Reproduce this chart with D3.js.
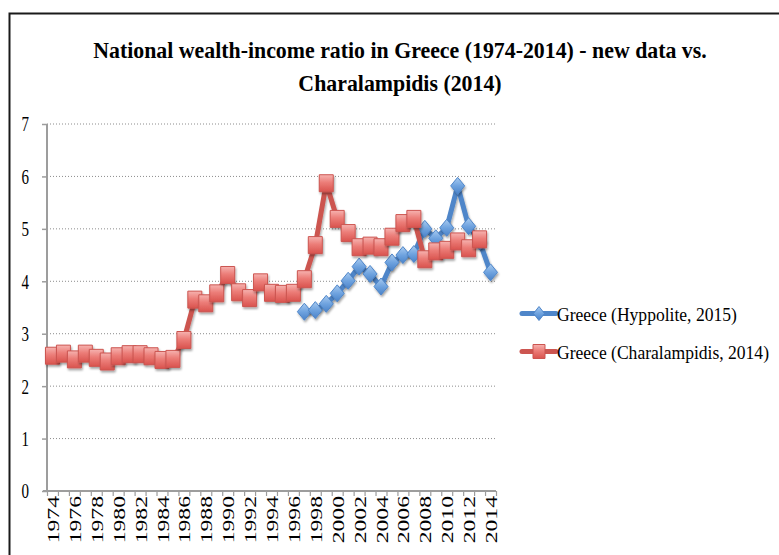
<!DOCTYPE html>
<html>
<head>
<meta charset="utf-8">
<script src="https://cdn.jsdelivr.net/npm/d3@7"></script>
<style>
  html, body { margin: 0; padding: 0; background: #fff; }
  svg { display: block; }
  text { font-family: "Liberation Serif", "Times New Roman", serif; fill: #000; }
</style>
</head>
<body>
<svg id="chart" width="779" height="555"></svg>
<script>
// ---------- data ----------
const years = d3.range(1974, 2015).map(String);
const yTicks = [0, 1, 2, 3, 4, 5, 6, 7];
const xTickLabels = years.filter((d, i) => i % 2 === 0);

const hyppolite = [
  null, null, null, null, null, null, null, null, null, null,
  null, null, null, null, null, null, null, null, null, null,
  null, null, null,
  3.42, 3.45, 3.57, 3.77, 4.01, 4.28, 4.14, 3.90, 4.36, 4.50,
  4.52, 5.00, 4.82, 5.02, 5.82, 5.05, 4.76, 4.17
];
const charalampidis = [
  2.58, 2.62, 2.51, 2.62, 2.54, 2.47, 2.57, 2.61, 2.61, 2.57,
  2.50, 2.52, 2.88, 3.65, 3.58, 3.77, 4.12, 3.79, 3.68, 3.98,
  3.78, 3.76, 3.78, 4.04, 4.69, 5.87, 5.19, 4.92, 4.65, 4.68,
  4.65, 4.85, 5.11, 5.19, 4.42, 4.57, 4.60, 4.76, 4.63, 4.80,
  null
];
const seriesNames = ["Greece (Hyppolite, 2015)", "Greece (Charalampidis, 2014)"];
const titleLines = ["National wealth-income ratio in Greece (1974-2014) - new data vs.", "Charalampidis (2014)"];

// ---------- layout ----------
const svg = d3.select("#chart");
const plot = { left: 47, right: 496, top: 124, bottom: 491 };

const defs = svg.append("defs");
const sh = defs.append("filter").attr("id", "shadow").attr("x", "-50%").attr("y", "-50%").attr("width", "200%").attr("height", "200%");
sh.append("feDropShadow").attr("dx", 1).attr("dy", 2).attr("stdDeviation", 1.3)
  .attr("flood-color", "#000").attr("flood-opacity", 0.35);

const gRed = defs.append("linearGradient").attr("id", "gradRed").attr("x1", 0).attr("y1", 0).attr("x2", 0).attr("y2", 1);
gRed.append("stop").attr("offset", "0%").attr("stop-color", "#f6b3b0");
gRed.append("stop").attr("offset", "45%").attr("stop-color", "#ec7d78");
gRed.append("stop").attr("offset", "100%").attr("stop-color", "#d9534e");
const gBlue = defs.append("linearGradient").attr("id", "gradBlue").attr("x1", 0).attr("y1", 0).attr("x2", 0).attr("y2", 1);
gBlue.append("stop").attr("offset", "0%").attr("stop-color", "#a9cbf0");
gBlue.append("stop").attr("offset", "50%").attr("stop-color", "#6fa3df");
gBlue.append("stop").attr("offset", "100%").attr("stop-color", "#4a82c8");

// border
svg.append("rect").attr("x", 9.5).attr("y", 13.5).attr("width", 800).attr("height", 600)
  .attr("fill", "none").attr("stroke", "#1a1a1a").attr("stroke-width", 2);

// scales
const xBand = d3.scaleBand().domain(years).range([plot.left, plot.right]).padding(0);
const xEdge = d3.scaleLinear().domain([0, years.length]).range([plot.left, plot.right]);
const y = d3.scaleLinear().domain([0, 7]).range([plot.bottom, plot.top]);
const cx = d => xBand(d) + xBand.bandwidth() / 2;

// gridlines
svg.append("g").selectAll("line").data(yTicks.filter(v => v > 0)).join("line")
  .attr("x1", plot.left).attr("x2", plot.right)
  .attr("y1", d => y(d)).attr("y2", d => y(d))
  .attr("stroke", "#8c8c8c").attr("stroke-width", 1).attr("stroke-dasharray", "1,2");

// y axis
const yAxis = svg.append("g").attr("transform", `translate(${plot.left},0)`)
  .call(d3.axisLeft(y).tickValues(yTicks).tickSize(5).tickPadding(0).tickFormat(d3.format("d")));
yAxis.select(".domain").attr("stroke", "#9d9d9d").attr("stroke-width", 2).attr("d", `M0,${plot.top}V${plot.bottom}`);
yAxis.selectAll(".tick line").attr("stroke", "#9d9d9d").attr("stroke-width", 1.5);
yAxis.selectAll(".tick text")
  .attr("x", null).attr("dy", null)
  .attr("font-size", 15).attr("text-anchor", "end").attr("dominant-baseline", "central")
  .attr("transform", "translate(-18,0) scale(1,1.4)");

// x axis: tick marks at category boundaries
const xAxisTicks = svg.append("g").attr("transform", `translate(0,${plot.bottom})`)
  .call(d3.axisBottom(xEdge).tickValues(d3.range(0, years.length + 1)).tickSize(5).tickFormat(""));
xAxisTicks.select(".domain").attr("stroke", "#9d9d9d").attr("stroke-width", 2).attr("d", `M${plot.left - 4},0H${plot.right}`);
xAxisTicks.selectAll(".tick line").attr("stroke", "#9d9d9d").attr("stroke-width", 1.2);

// x labels
const xAxisLabels = svg.append("g").attr("transform", `translate(0,${plot.bottom})`)
  .call(d3.axisBottom(xBand).tickValues(xTickLabels).tickSize(0));
xAxisLabels.select(".domain").remove();
xAxisLabels.selectAll(".tick text")
  .attr("y", null).attr("dy", null)
  .attr("font-size", 16).attr("text-anchor", "end").attr("dominant-baseline", "central")
  .attr("transform", "translate(1,5) rotate(-90) scale(1.48,1)");

// series
const lineGen = d3.line().defined(d => d.v != null).x(d => cx(d.year)).y(d => y(d.v));
const blueData = years.map((yr, i) => ({ year: yr, v: hyppolite[i] }));
const redData = years.map((yr, i) => ({ year: yr, v: charalampidis[i] }));

const blueColor = "#4f86c9", redColor = "#cc5550";
const diamond = (w, h) => `M0,${-h}L${w},0L0,${h}L${-w},0Z`;
const square = (w, h) => `M${-w},${-h}H${w}V${h}H${-w}Z`;

function drawSeries(data, color, markerPath, grad) {
  const g = svg.append("g");
  g.append("path").datum(data).attr("d", lineGen).attr("fill", "none")
    .attr("stroke", color).attr("stroke-width", 5).attr("stroke-linejoin", "round")
    .attr("filter", "url(#shadow)");
  g.selectAll("path.mk").data(data.filter(d => d.v != null)).join("path").attr("class", "mk")
    .attr("d", markerPath)
    .attr("transform", d => `translate(${cx(d.year)},${y(d.v)})`)
    .attr("fill", `url(#${grad})`).attr("stroke", color).attr("stroke-width", 1)
    .attr("filter", "url(#shadow)");
}
drawSeries(blueData, blueColor, diamond(7, 8.5), "gradBlue");
drawSeries(redData, redColor, square(7, 8.5), "gradRed");

// title
const title = svg.append("g");
const t1 = title.append("text").text(titleLines[0]).attr("font-size", 23).attr("font-weight", "bold").attr("text-anchor", "middle");
const w1 = t1.node().getComputedTextLength();
const sxT = 614 / w1;
t1.attr("transform", `translate(400,58) scale(${sxT},1.02)`);
title.append("text").text(titleLines[1]).attr("font-size", 23).attr("font-weight", "bold").attr("text-anchor", "middle")
  .attr("transform", `translate(400,91) scale(${sxT},1.02)`);

// legend
const legend = svg.append("g");
const legY = [313.5, 351.5];
const legColors = [blueColor, redColor];
const legMarkers = [diamond(5.5, 7), square(6, 7)];
const legGrads = ["gradBlue", "gradRed"];
let sxL = 1;
seriesNames.forEach((name, i) => {
  const g = legend.append("g").attr("transform", `translate(0,${legY[i]})`);
  g.append("line").attr("x1", 522).attr("x2", 556).attr("y1", 0).attr("y2", 0)
    .attr("stroke", legColors[i]).attr("stroke-width", 5).attr("stroke-linecap", "round");
  g.append("path").attr("d", legMarkers[i]).attr("transform", "translate(539,0)")
    .attr("fill", `url(#${legGrads[i]})`).attr("stroke", legColors[i]).attr("stroke-width", 1);
  const t = g.append("text").text(name).attr("font-size", 17).attr("dominant-baseline", "central");
  if (i === 0) sxL = 180 / t.node().getComputedTextLength();
  t.attr("transform", `translate(557,1) scale(${sxL},1.1)`);
});
</script>
</body>
</html>
